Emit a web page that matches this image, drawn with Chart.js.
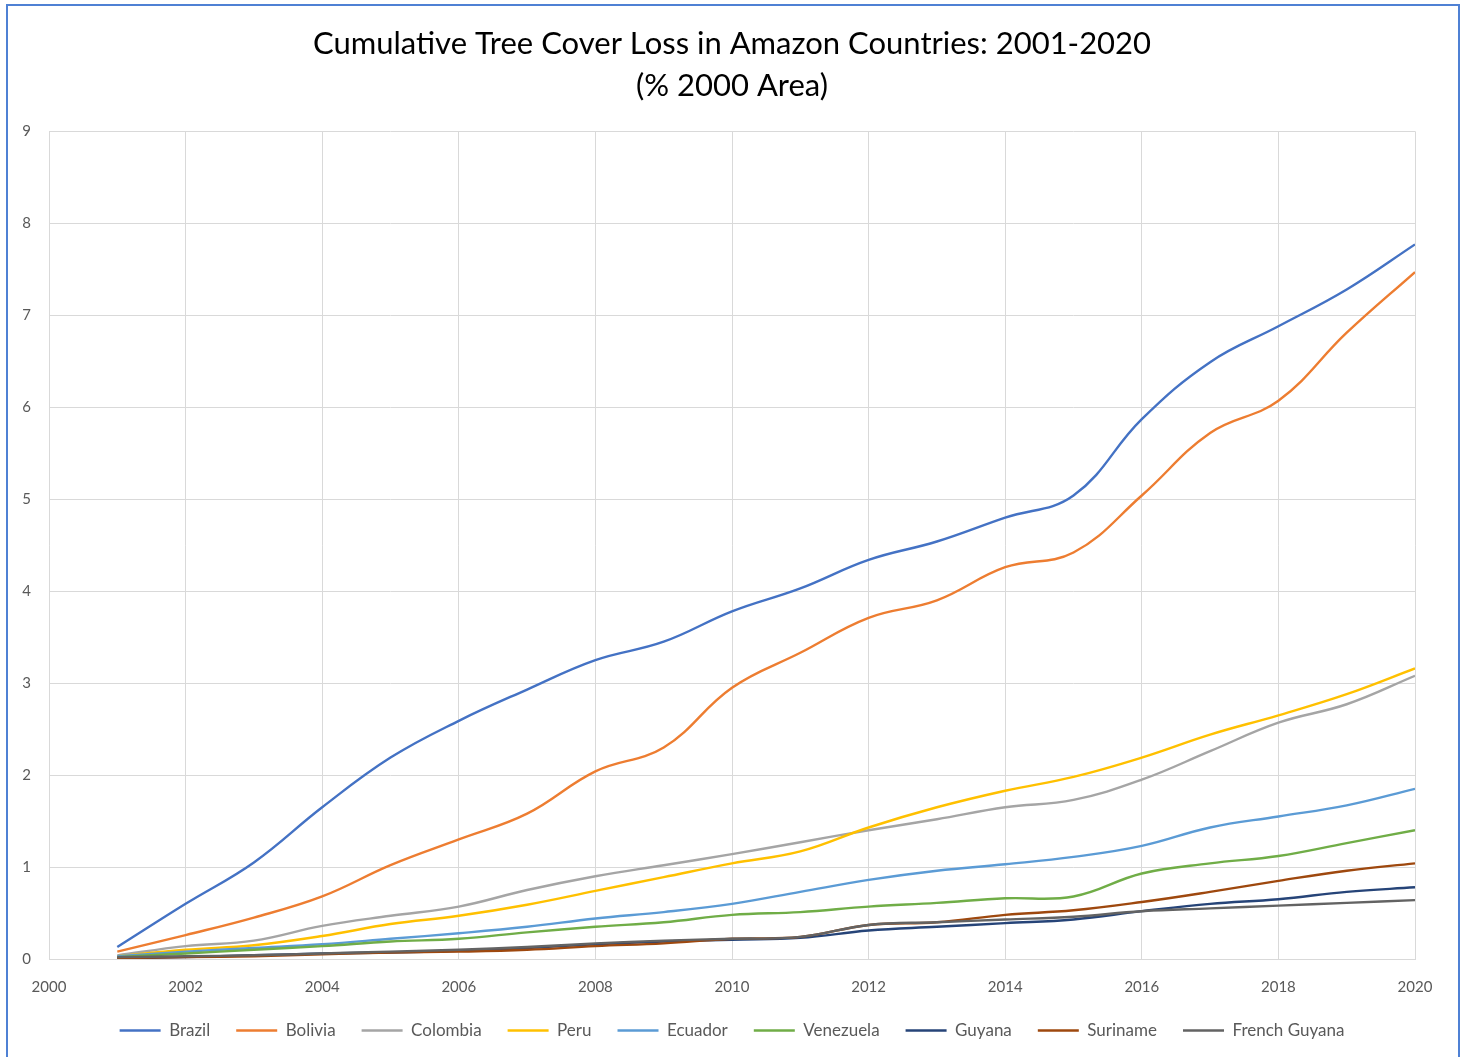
<!DOCTYPE html>
<html>
<head>
<meta charset="utf-8">
<script src="https://cdn.jsdelivr.net/npm/chart.js@4.4.1/dist/chart.umd.min.js"></script>
<style>
  html, body { margin: 0; padding: 0; background: #ffffff; }
  #wrap { position: relative; width: 1466px; height: 1057px; overflow: hidden; }
  #frame { position: absolute; left: 6px; top: 4px; width: 1450px; height: 1080px; border: 2px solid #4f81d4; pointer-events: none; }
  canvas { position: absolute; left: 0; top: 0; }
</style>
</head>
<body>
<div id="wrap">
  <canvas id="c" width="1466" height="1057"></canvas>
  <div id="frame"></div>
</div>
<script>
const titleLines = ["Cumulative Tree Cover Loss in Amazon Countries: 2001-2020", "(% 2000 Area)"];
const years = [2001, 2002, 2003, 2004, 2005, 2006, 2007, 2008, 2009, 2010, 2011, 2012, 2013, 2014, 2015, 2016, 2017, 2018, 2019, 2020];
const xTicks = [2000, 2002, 2004, 2006, 2008, 2010, 2012, 2014, 2016, 2018, 2020];
const yTicks = [0, 1, 2, 3, 4, 5, 6, 7, 8, 9];

const countryNames = ["Brazil", "Bolivia", "Colombia", "Peru", "Ecuador", "Venezuela", "Guyana", "Suriname", "French Guyana"];
const countryColors = ["#4472C4", "#ED7D31", "#A5A5A5", "#FFC000", "#5B9BD5", "#70AD47", "#264478", "#9E480E", "#636363"];

const brazil       = [0.13, 0.60, 1.05, 1.65, 2.19, 2.59, 2.93, 3.25, 3.45, 3.78, 4.03, 4.34, 4.54, 4.80, 5.04, 5.87, 6.49, 6.88, 7.28, 7.77];
const bolivia      = [0.08, 0.26, 0.45, 0.68, 1.02, 1.30, 1.58, 2.04, 2.30, 2.95, 3.33, 3.71, 3.90, 4.26, 4.42, 5.04, 5.72, 6.07, 6.81, 7.47];
const colombia     = [0.04, 0.14, 0.20, 0.36, 0.47, 0.57, 0.75, 0.90, 1.02, 1.14, 1.27, 1.40, 1.52, 1.65, 1.73, 1.95, 2.26, 2.57, 2.77, 3.08];
const peru         = [0.03, 0.10, 0.15, 0.25, 0.38, 0.47, 0.59, 0.74, 0.89, 1.04, 1.17, 1.43, 1.65, 1.83, 1.98, 2.19, 2.44, 2.65, 2.88, 3.16];
const ecuador      = [0.03, 0.08, 0.12, 0.16, 0.22, 0.28, 0.35, 0.44, 0.51, 0.60, 0.73, 0.86, 0.96, 1.03, 1.11, 1.23, 1.43, 1.55, 1.67, 1.85];
const venezuela    = [0.02, 0.06, 0.10, 0.14, 0.19, 0.22, 0.29, 0.35, 0.40, 0.48, 0.51, 0.57, 0.61, 0.66, 0.68, 0.93, 1.04, 1.12, 1.26, 1.40];
const guyana       = [0.01, 0.02, 0.04, 0.06, 0.07, 0.09, 0.12, 0.16, 0.19, 0.21, 0.23, 0.31, 0.35, 0.39, 0.43, 0.52, 0.60, 0.65, 0.73, 0.78];
const suriname     = [0.01, 0.02, 0.03, 0.05, 0.07, 0.08, 0.10, 0.14, 0.17, 0.22, 0.24, 0.37, 0.40, 0.48, 0.53, 0.62, 0.73, 0.85, 0.96, 1.04];
const frenchGuyana = [0.02, 0.03, 0.04, 0.06, 0.08, 0.10, 0.13, 0.17, 0.20, 0.22, 0.24, 0.37, 0.40, 0.43, 0.46, 0.52, 0.55, 0.58, 0.61, 0.64];

const seriesValues = [brazil, bolivia, colombia, peru, ecuador, venezuela, guyana, suriname, frenchGuyana];

const FONT = "Lato, 'Open Sans', 'DejaVu Sans', sans-serif";
const GRID = "#d9d9d9";
const TEXT = "#595959";

const datasets = countryNames.map((name, i) => ({
  label: name,
  data: years.map((yr, k) => ({ x: yr, y: seriesValues[i][k] })),
  borderColor: countryColors[i],
  backgroundColor: countryColors[i],
  borderWidth: 2.4,
  pointRadius: 0,
  pointHoverRadius: 0,
  tension: 0.4,
  fill: false,
  order: countryNames.length - i
}));

new Chart(document.getElementById('c'), {
  type: 'line',
  data: { datasets },
  options: {
    responsive: false,
    animation: false,
    events: [],
    layout: { padding: { left: 0, right: 51, top: 0, bottom: 8 } },
    plugins: {
      title: {
        display: true,
        fullSize: false,
        text: titleLines,
        color: "#000000",
        font: { family: FONT, size: 31, weight: 'normal', lineHeight: 1.36 },
        padding: { top: 23, bottom: 24 }
      },
      legend: {
        display: true,
        fullSize: false,
        position: 'bottom',
        labels: {
          usePointStyle: true,
          pointStyle: 'line',
          pointStyleWidth: 41,
          color: TEXT,
          font: { family: FONT, size: 17 },
          padding: 26,
          sort: (a, b) => a.datasetIndex - b.datasetIndex
        }
      },
      tooltip: { enabled: false }
    },
    scales: {
      x: {
        type: 'linear',
        min: xTicks[0],
        max: xTicks[xTicks.length - 1],
        afterBuildTicks: (axis) => { axis.ticks = xTicks.map(v => ({ value: v })); },
        afterFit: (axis) => { axis.height = 37; },
        grid: { color: GRID, lineWidth: 1, drawTicks: false },
        border: { color: GRID, width: 1 },
        ticks: {
          color: TEXT,
          font: { family: FONT, size: 15 },
          padding: 19,
          maxRotation: 0,
          callback: (v) => String(v)
        }
      },
      y: {
        type: 'linear',
        position: 'left',
        min: yTicks[0],
        max: yTicks[yTicks.length - 1],
        afterBuildTicks: (axis) => { axis.ticks = yTicks.map(v => ({ value: v })); },
        afterFit: (axis) => { axis.width = 49; },
        grid: { color: GRID, lineWidth: 1, drawTicks: false },
        border: { display: false },
        ticks: {
          color: TEXT,
          font: { family: FONT, size: 15 },
          padding: 18,
          callback: (v) => String(v)
        }
      }
    }
  }
});
</script>
</body>
</html>
